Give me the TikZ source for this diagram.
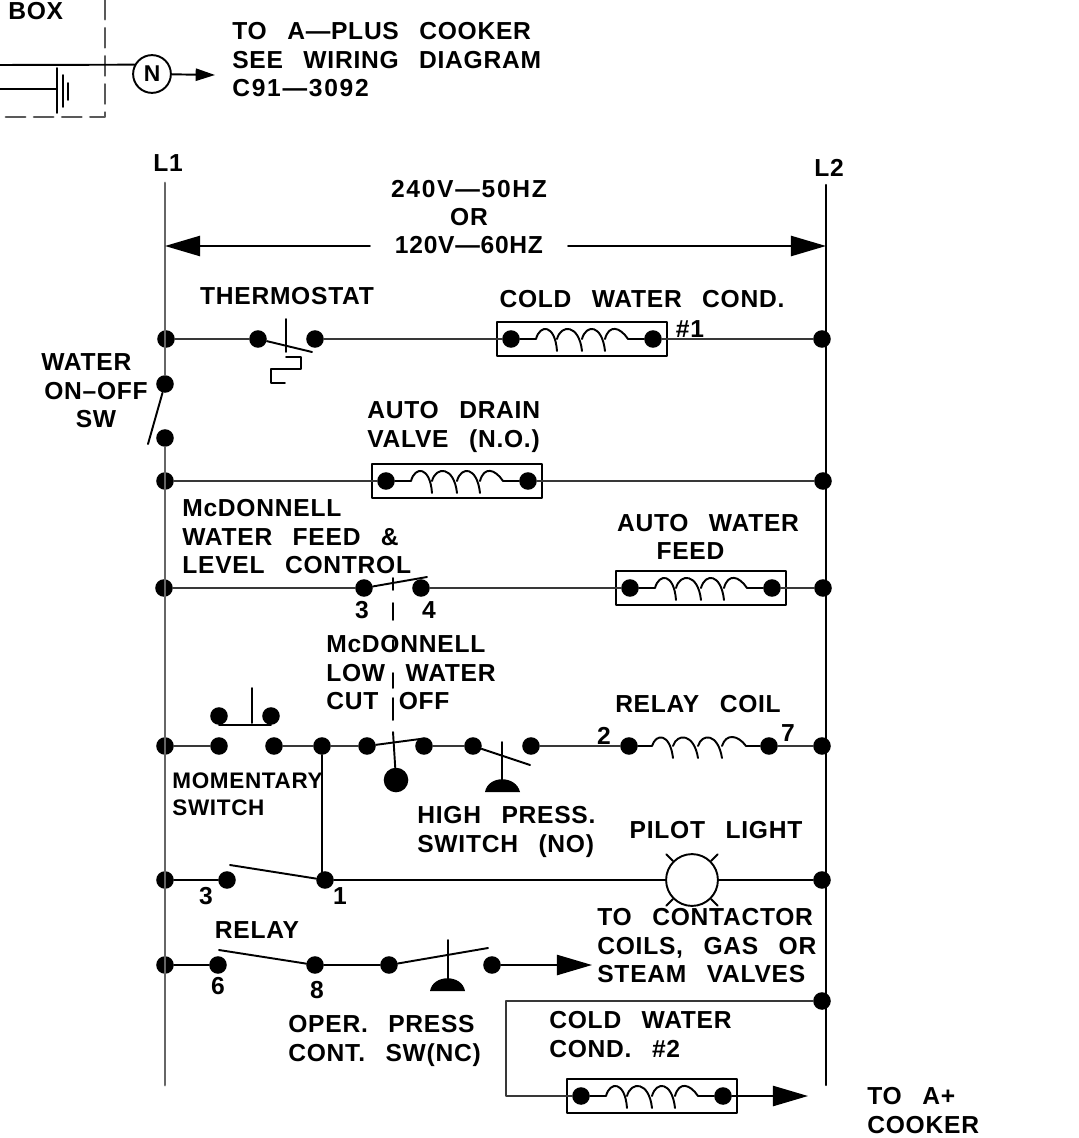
\documentclass[tikz,border=0pt]{standalone}
\usepackage{fontspec}
\setmainfont[WordSpace=2.7,LetterSpace=3]{Liberation Sans}
\newcommand{\wideset}{\addfontfeature{LetterSpace=7}}
\usetikzlibrary{arrows.meta}
\tikzset{
  dot/.style={circle,fill=black,inner sep=0pt,minimum size=10pt},
  bigdot/.style={circle,fill=black,inner sep=0pt,minimum size=14pt},
  busline/.style={line width=1.7pt,black!60},
  wire/.style={line width=1.5pt,black!78},
  thin wire/.style={line width=1.1pt,black},
  feedarrow/.style={-{Triangle[length=20pt,width=11.5pt]}},
  txt/.style={inner sep=0pt,align=left,anchor=north west,font=\bfseries\fontsize{14}{16.3}\selectfont},
  mid/.style={inner sep=0pt,align=center,font=\bfseries\fontsize{14}{16.3}\selectfont},
  coilbox/.pic={
    \draw[thin wire] (-85,-17) rectangle (85,17);
    \node[dot] (-in) at (-71,0) {};
    \node[dot] (-out) at (71,0) {};
    \draw[thin wire] (-in) -- (-46,0) .. controls (-42,-15) and (-27,-15) .. (-25,12);
    \draw[thin wire] (-25,0) .. controls (-21,-15) and (-3,-15) .. (0,12);
    \draw[thin wire] (0,0) .. controls (4,-15) and (20,-15) .. (23,12);
    \draw[thin wire] (23,0) .. controls (27,-15) and (38,-12) .. (46,0) -- (-out);
  }
}
\begin{document}
\begin{tikzpicture}[line cap=round,line join=round,x=0.02cm,y=-0.02cm]
\useasboundingbox (0,0) rectangle (1078,1138);
\node[dot] (a1) at (166,339) {};
\node[dot] (a2) at (258,339) {};
\node[dot] (a3) at (315,339) {};
\node[dot] (a4) at (822,339) {};
\node[dot] (sw1) at (165,384) {};
\node[dot] (sw2) at (165,438) {};
\node[dot] (b1) at (165,481) {};
\node[dot] (b2) at (823,481) {};
\node[dot] (c1) at (164,588) {};
\node[dot] (c2) at (364,588) {};
\node[dot] (c3) at (421,588) {};
\node[dot] (c4) at (823,588) {};
\node[dot] (m1) at (219,716) {};
\node[dot] (m2) at (271,716) {};
\node[dot] (d1) at (165,746) {};
\node[dot] (d2) at (219,746) {};
\node[dot] (d3) at (274,746) {};
\node[dot] (d4) at (322,746) {};
\node[dot] (d5) at (367,746) {};
\node[dot] (d6) at (424,746) {};
\node[dot] (d7) at (473,746) {};
\node[dot] (d8) at (531,746) {};
\node[dot] (d9) at (629,746) {};
\node[dot] (d10) at (769,746) {};
\node[dot] (d11) at (822,746) {};
\node[bigdot] (lowball) at (396,780) {};
\node[dot] (e1) at (165,880) {};
\node[dot] (e2) at (227,880) {};
\node[dot] (e3) at (325,880) {};
\node[dot] (e4) at (822,880) {};
\node[dot] (f1) at (165,965) {};
\node[dot] (f2) at (218,965) {};
\node[dot] (f3) at (315,965) {};
\node[dot] (f4) at (389,965) {};
\node[dot] (f5) at (492,965) {};
\node[dot] (g1) at (822,1001) {};
\node[circle,draw,thin wire,fill=white,inner sep=0pt,minimum size=21.5pt,font=\bfseries\fontsize{13}{14}\selectfont] (neutral) at (152,74) {N};
\node[circle,draw,thin wire,inner sep=0pt,minimum size=29.5pt] (pilot) at (692,880) {};
\coordinate (l1top) at (165,183);
\coordinate (l1end) at (165,1085);
\coordinate (l2top) at (826,185);
\coordinate (l2end) at (826,1085);
\pic (coilA) at (582,339) {coilbox};
\pic (coilB) at (457,481) {coilbox};
\pic (coilC) at (701,588) {coilbox};
\pic (coilD) at (652,1096) {coilbox};
\draw[busline] (l1top) -- (sw1);
\draw[busline] (sw2) -- (l1end);
\draw[line width=1.3pt] (l2top) -- (l2end);
\draw[thin wire] (sw1) -- (148,444);
\draw[wire] (a1) -- (a2);
\draw[wire] (a3) -- (coilA-in);
\draw[wire] (coilA-out) -- (a4);
\draw[wire] (b1) -- (coilB-in);
\draw[wire] (coilB-out) -- (b2);
\draw[wire] (c1) -- (c2);
\draw[wire] (c3) -- (coilC-in);
\draw[wire] (coilC-out) -- (c4);
\draw[wire] (d1) -- (d2);
\draw[wire] (d3) -- (d4) -- (d5);
\draw[wire] (d6) -- (d7);
\draw[wire] (d8) -- (d9);
\draw[wire] (d10) -- (d11);
\draw[thin wire] (d9) -- (652,746) .. controls (656,733) and (670,733) .. (673,758);
\draw[thin wire] (673,746) .. controls (677,733) and (694,733) .. (698,758);
\draw[thin wire] (698,746) .. controls (702,733) and (718,733) .. (722,758);
\draw[thin wire] (722,746) .. controls (726,733) and (738,735) .. (746,746) -- (d10);
\draw[thin wire] (d4) -- (d4 |- e3);
\draw[thin wire] (e1) -- (e2);
\draw[thin wire] (e3) -- (pilot);
\draw[thin wire] (pilot) -- (e4);
\draw[thin wire] (f1) -- (f2);
\draw[thin wire] (f3) -- (f4);
\draw[thin wire,feedarrow] (f5) -- (592,965);
\draw[wire] (g1) -- (506,1001) -- (506,1096) -- (coilD-in);
\draw[thin wire,feedarrow] (coilD-out) -- (808,1096);
\draw[thin wire] (286,319) -- (286,352);
\draw[thin wire] (a2) -- (312,352);
\draw[thin wire] (286,357) -- (301,357) -- (301,369) -- (271,369) -- (271,383) -- (285,383);
\draw[thin wire] (c2) -- (427,577);
\draw[thin wire] (393,578) -- (393,590);
\draw[thin wire] (393,603) -- (393,620);
\draw[thin wire] (393,640) -- (393,650);
\draw[thin wire] (393,673) -- (393,688);
\draw[thin wire] (393,698) -- (393,720);
\draw[thin wire] (393,732) -- (lowball);
\draw[thin wire] (d5) -- (420,739);
\draw[thin wire] (m1.south) -- (m2.south);
\draw[thin wire] (252,688) -- (252,723);
\draw[thin wire] (d7) -- (530,765);
\draw[thin wire] (502,742) -- (502,782);
\fill (485,792) .. controls (488,775) and (516,775) .. (520,792) -- cycle;
\draw[thin wire] (230,865) -- (e3);
\draw[thin wire] (219,950) -- (f3);
\draw[thin wire] (f4) -- (488,948);
\draw[thin wire] (448,940) -- (448,985);
\fill (430,991) .. controls (433,974) and (462,974) .. (465,991) -- cycle;
\foreach \ang in {45,135,225,315}
  \draw[thin wire] (pilot.\ang) -- ++(\ang:0.19cm);
\coordinate (boxtop) at (105,0);
\coordinate (boxcorner) at (105,117);
\coordinate (boxleft) at (0,117);
\coordinate (feedin) at (0,65);
\coordinate (battin) at (0,89);
\coordinate (battplate) at (57,89);
\draw[line width=1.5pt,black!65,dash pattern=on 11pt off 5pt] (boxtop) -- (boxcorner) -- (boxleft);
\draw[thin wire] (feedin) -- (neutral.152);
\draw[thin wire] (battin) -- (battplate);
\draw[thin wire] (57,68) -- (57,113);
\draw[thin wire] (63,75) -- (63,107);
\draw[thin wire] (68,83) -- (68,100);
\coordinate (neutralout) at (215,75);
\draw[thin wire,-{Triangle[length=11pt,width=7pt]}] (neutral) -- (neutralout);
\coordinate (spanleft) at (165,246);
\coordinate (spanright) at (826,246);
\node[mid] (span) at (469,217) {\wideset 240V---50HZ\\[-0.5pt]OR\\[-0.5pt]120V---60HZ};
\draw[thin wire,feedarrow] (370,246) -- (spanleft);
\draw[thin wire,feedarrow] (568,246) -- (spanright);
\node[txt] (boxlbl) at (8,2) {BOX};
\node[txt] (cookerlbl) at (232,22) {TO A---PLUS COOKER\\SEE WIRING DIAGRAM\\{\wideset C91---3092}};
\node[mid] (l1lbl) at (168,163) {L1};
\node[mid] (l2lbl) at (829,168) {L2};
\node[mid] (thermolbl) at (287,296) {THERMOSTAT};
\node[mid] (condAlbl) at (642,299) {COLD WATER COND.};
\node[mid] (hashlbl) at (690,329) {\#1};
\node[mid] (waterlbl) at (96,391) {WATER\hspace*{11pt}\\ON--OFF\\SW};
\node[txt] (drainlbl) at (367,401) {AUTO DRAIN\\VALVE (N.O.)};
\node[txt] (mcdlbl) at (182,499) {McDONNELL\\WATER FEED \&\\LEVEL CONTROL};
\node[mid] (feedlbl) at (708,537) {AUTO WATER\\\hspace*{-20pt}FEED};
\node[mid] (threelbl) at (362,610) {3};
\node[mid] (fourlbl) at (429,610) {4};
\node[txt] (lowlbl) at (326,635) {McDONNELL\\LOW WATER\\CUT OFF};
\node[mid] (relaycoillbl) at (698,704) {RELAY COIL};
\node[mid] (twolbl) at (604,736) {2};
\node[mid] (sevenlbl) at (788,733) {7};
\node[txt,font=\bfseries\fontsize{12.8}{15.4}\selectfont] (momlbl) at (172,772) {MOMENTARY\\SWITCH};
\node[txt] (highlbl) at (417,806) {HIGH PRESS.\\SWITCH (NO)};
\node[mid] (pilotlbl) at (716,830) {PILOT LIGHT};
\node[mid] (e3lbl) at (206,896) {3};
\node[mid] (onelbl) at (340,896) {1};
\node[mid] (relaylbl) at (257,930) {RELAY};
\node[mid] (sixlbl) at (218,986) {6};
\node[mid] (eightlbl) at (317,990) {8};
\node[txt] (contactlbl) at (597,908) {TO CONTACTOR\\COILS, GAS OR\\STEAM VALVES};
\node[txt] (operlbl) at (288,1015) {OPER. PRESS\\CONT. SW(NC)};
\node[txt] (condDlbl) at (549,1011) {COLD WATER\\COND. \#2};
\node[txt] (aplusllbl) at (867,1087) {TO A+\\COOKER};
\end{tikzpicture}
\end{document}
